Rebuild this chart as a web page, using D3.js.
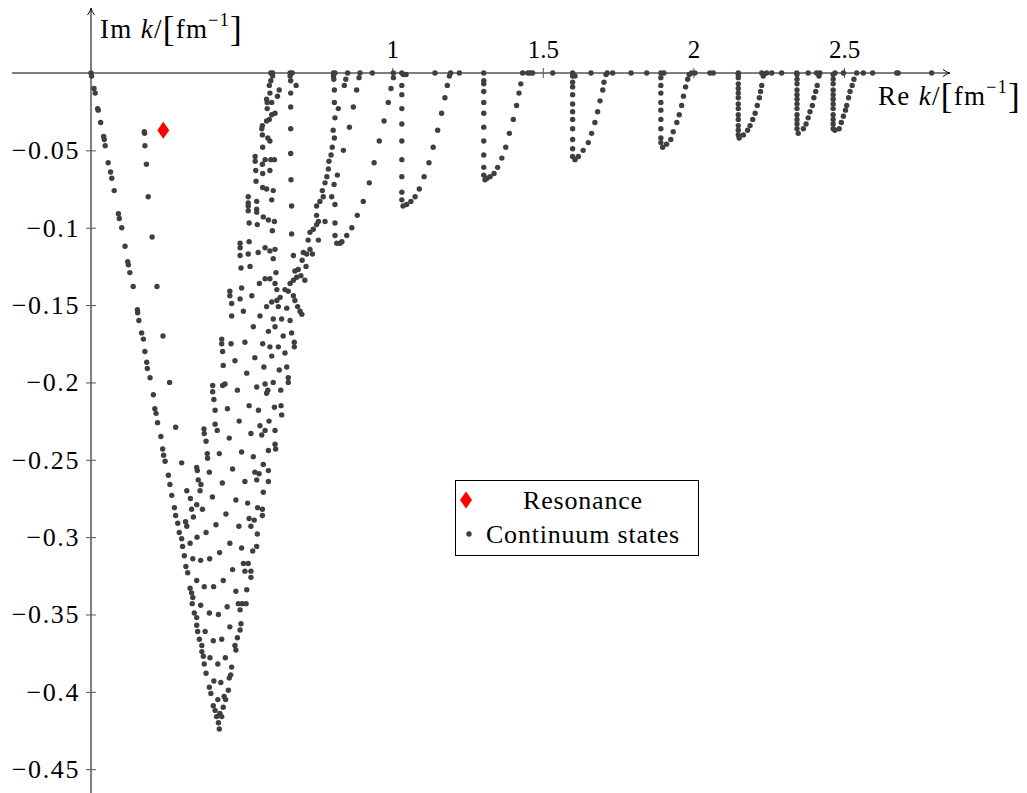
<!DOCTYPE html>
<html>
<head>
<meta charset="utf-8">
<script src="https://cdn.jsdelivr.net/npm/d3@7"></script>
<style>
  body { margin: 0; background: #fff; }
  svg, svg text { font-family: "Liberation Serif", "DejaVu Serif", serif; fill: #000; }
</style>
</head>
<body>
<svg id="chart" width="1027" height="793"></svg>
<script>
// ---- data: complex momenta k = (Re k, Im k) in fm^-1 ----
const resonance = [[0.240, -0.037]];

// steep outer edge of the deep contour family
const outerEdge = [
  [0,0],[0.002,-0.002],[0.010,-0.010],[0.014,-0.013],[0.022,-0.023],[0.024,-0.024],[0.032,-0.032],
  [0.042,-0.041],[0.044,-0.043],[0.047,-0.047],[0.057,-0.058],[0.065,-0.064],[0.069,-0.068],
  [0.077,-0.076],[0.091,-0.091],[0.094,-0.094],[0.102,-0.100],[0.113,-0.112],[0.122,-0.122],
  [0.124,-0.124],[0.129,-0.129],[0.140,-0.138],[0.154,-0.153],[0.155,-0.155],[0.159,-0.160],
  [0.168,-0.168],[0.174,-0.172],[0.179,-0.180],[0.185,-0.187],[0.187,-0.191],[0.196,-0.197],
  [0.207,-0.208],[0.212,-0.217],[0.216,-0.220],[0.221,-0.226],[0.232,-0.235],[0.238,-0.243],
  [0.241,-0.247],[0.246,-0.251],[0.257,-0.260],[0.262,-0.266],[0.268,-0.273],[0.277,-0.281],
  [0.281,-0.286],[0.288,-0.291],[0.293,-0.297],[0.301,-0.301],[0.304,-0.306],[0.310,-0.312],
  [0.315,-0.319],[0.321,-0.323],[0.329,-0.333],[0.334,-0.336],[0.338,-0.339],[0.336,-0.343],
  [0.343,-0.349],[0.351,-0.352],[0.351,-0.357],[0.354,-0.361],[0.360,-0.366],[0.368,-0.370],
  [0.368,-0.374],[0.373,-0.377],[0.376,-0.382],[0.382,-0.388],[0.393,-0.397],[0.398,-0.401],
  [0.406,-0.409],[0.412,-0.412],[0.417,-0.416],[0.423,-0.420],[0.426,-0.424]
];

// second line, just inside the outer edge
const innerEdge = [
  [0.177,-0.038],[0.178,-0.039],[0.179,-0.047],[0.184,-0.059],[0.190,-0.080],[0.203,-0.106],
  [0.219,-0.138],[0.239,-0.170],[0.261,-0.200],[0.281,-0.229],[0.301,-0.252],[0.318,-0.270],
  [0.330,-0.275],[0.334,-0.282],[0.340,-0.287],[0.314,-0.290],[0.318,-0.293],[0.329,-0.304],
  [0.338,-0.314]
];

// upper part of the dense cone (Im k > -0.09)
const coneTop = [
  [0.603,0],[0.597,0],[0.603,-0.002],[0.597,-0.005],[0.592,-0.008],[0.625,-0.011],[0.594,-0.013],
  [0.619,-0.015],[0.583,-0.017],[0.585,-0.019],[0.600,-0.019],[0.585,-0.023],[0.611,-0.026],
  [0.600,-0.027],[0.592,-0.030],[0.583,-0.031],[0.569,-0.034],[0.567,-0.036],[0.569,-0.040],
  [0.587,-0.042],[0.594,-0.044],[0.570,-0.048],[0.545,-0.054],[0.545,-0.057],[0.569,-0.059],
  [0.578,-0.056],[0.597,-0.056],[0.609,-0.056],[0.547,-0.063],[0.570,-0.065],[0.594,-0.063],
  [0.548,-0.070],[0.570,-0.074],[0.583,-0.075],[0.605,-0.076],[0.600,-0.082],[0.522,-0.080],
  [0.522,-0.084],[0.550,-0.083],[0.522,-0.086],[0.550,-0.088],
  [0.661,0],[0.661,-0.002],[0.663,-0.005],[0.681,-0.008],[0.663,-0.013],[0.663,-0.022],
  [0.663,-0.036],[0.663,-0.052],[0.664,-0.069],[0.666,-0.086],
  [0.805,0],[0.805,-0.002],[0.806,-0.004],[0.808,-0.011],[0.808,-0.019],[0.821,-0.023],
  [0.810,-0.029],[0.804,-0.037],[0.808,-0.042],[0.801,-0.048],[0.797,-0.053],[0.790,-0.057],
  [0.788,-0.062],[0.818,-0.066],[0.783,-0.067],[0.777,-0.071],[0.807,-0.072],[0.768,-0.076],
  [0.771,-0.080],[0.799,-0.080],[0.760,-0.083],[0.749,-0.086],[0.810,-0.085],
  [0.890,-0.003],[0.882,-0.011],[0.871,-0.022],[0.858,-0.035],[0.838,-0.050],[0.846,-0.004],
  [0.841,-0.008]
];

// middle band of the cone (-0.17 < Im k < -0.09)
const coneMiddle = [
  [0.522,-0.089],[0.550,-0.090],[0.572,-0.093],[0.589,-0.095],[0.609,-0.096],[0.525,-0.097],
  [0.552,-0.098],[0.602,-0.102],[0.749,-0.092],[0.755,-0.096],[0.749,-0.098],[0.777,-0.096],
  [0.810,-0.097],[0.738,-0.101],[0.727,-0.103],[0.666,-0.104],[0.810,-0.105],[0.816,-0.110],
  [0.495,-0.110],[0.495,-0.113],[0.525,-0.109],[0.495,-0.118],[0.522,-0.117],[0.555,-0.116],
  [0.578,-0.113],[0.594,-0.115],[0.611,-0.114],[0.605,-0.120],[0.672,-0.118],[0.705,-0.116],
  [0.716,-0.117],[0.727,-0.114],[0.735,-0.117],[0.701,-0.121],[0.721,-0.108],[0.755,-0.108],
  [0.498,-0.126],[0.528,-0.125],[0.614,-0.129],[0.677,-0.128],[0.688,-0.127],[0.714,-0.125],
  [0.697,-0.131],[0.683,-0.132],[0.710,-0.134],[0.672,-0.134],[0.661,-0.136],[0.578,-0.133],
  [0.594,-0.133],[0.611,-0.136],[0.617,-0.140],[0.559,-0.136],[0.500,-0.139],[0.461,-0.141],
  [0.461,-0.144],[0.467,-0.149],[0.495,-0.146],[0.534,-0.144],[0.644,-0.140],[0.655,-0.141],
  [0.672,-0.144],[0.677,-0.147],[0.628,-0.145],[0.617,-0.147],[0.600,-0.148],[0.622,-0.151],
  [0.650,-0.152],[0.686,-0.151],[0.694,-0.154],[0.700,-0.156],[0.583,-0.151],[0.506,-0.154],
  [0.467,-0.157],[0.561,-0.157],[0.605,-0.159],[0.633,-0.159],[0.661,-0.160],[0.611,-0.164],
  [0.539,-0.164]
];

// lower band of the cone (-0.33 < Im k < -0.165)
const coneLower = [
  [0.589,-0.167],[0.638,-0.170],[0.666,-0.168],[0.675,-0.174],[0.675,-0.177],[0.434,-0.172],
  [0.434,-0.175],[0.437,-0.180],[0.465,-0.175],[0.511,-0.174],[0.478,-0.186],[0.439,-0.189],
  [0.544,-0.184],[0.570,-0.175],[0.594,-0.177],[0.622,-0.177],[0.600,-0.183],[0.644,-0.181],
  [0.574,-0.190],[0.625,-0.192],[0.650,-0.190],[0.655,-0.197],[0.655,-0.200],[0.605,-0.200],
  [0.517,-0.194],[0.404,-0.202],[0.404,-0.206],[0.437,-0.202],[0.445,-0.201],[0.486,-0.205],
  [0.550,-0.203],[0.578,-0.201],[0.587,-0.205],[0.583,-0.207],[0.630,-0.205],
  [0.408,-0.211],[0.412,-0.218],[0.453,-0.217],[0.525,-0.215],[0.556,-0.218],[0.609,-0.216],
  [0.631,-0.215],[0.633,-0.221],[0.375,-0.230],[0.376,-0.233],[0.412,-0.227],[0.419,-0.231],
  [0.492,-0.225],[0.531,-0.233],[0.561,-0.228],[0.567,-0.234],[0.578,-0.231],[0.591,-0.225],
  [0.611,-0.231],[0.382,-0.238],[0.459,-0.236],[0.386,-0.246],[0.387,-0.249],[0.426,-0.246],
  [0.500,-0.245],[0.539,-0.248],[0.589,-0.244],[0.611,-0.240],[0.613,-0.243],[0.351,-0.255],
  [0.353,-0.257],[0.393,-0.258],[0.470,-0.256],[0.572,-0.253],[0.589,-0.257],[0.544,-0.258],
  [0.558,-0.259],[0.550,-0.263],[0.356,-0.263],[0.365,-0.266],[0.362,-0.270],[0.436,-0.265],
  [0.511,-0.264],[0.589,-0.264],[0.351,-0.279],[0.370,-0.282],[0.403,-0.274],[0.481,-0.276],
  [0.520,-0.278],[0.572,-0.271],[0.415,-0.292],[0.448,-0.285],[0.491,-0.293],[0.525,-0.288],
  [0.542,-0.289],[0.531,-0.293],[0.553,-0.281],[0.569,-0.282],[0.569,-0.286],[0.352,-0.300],
  [0.382,-0.297],[0.461,-0.304],[0.500,-0.307],[0.537,-0.309],[0.550,-0.306],[0.552,-0.298],
  [0.364,-0.315],[0.394,-0.314],[0.427,-0.310],[0.470,-0.321],[0.506,-0.317],[0.522,-0.317],
  [0.511,-0.322],[0.531,-0.322],[0.531,-0.326],[0.351,-0.328],[0.439,-0.328]
];

// tip of the cone (Im k < -0.33)
const coneTip = [
  [0.376,-0.332],[0.407,-0.332],[0.481,-0.335],[0.517,-0.334],[0.364,-0.344],[0.393,-0.349],
  [0.423,-0.350],[0.452,-0.345],[0.489,-0.343],[0.502,-0.343],[0.515,-0.343],[0.495,-0.347],
  [0.498,-0.356],[0.379,-0.361],[0.406,-0.367],[0.434,-0.366],[0.461,-0.358],[0.495,-0.360],
  [0.486,-0.365],[0.478,-0.370],[0.481,-0.373],[0.395,-0.378],[0.421,-0.382],[0.446,-0.378],
  [0.467,-0.384],[0.464,-0.389],[0.459,-0.391],[0.408,-0.393],[0.431,-0.394],[0.421,-0.405],
  [0.442,-0.403],[0.456,-0.399],[0.447,-0.405],[0.439,-0.410],[0.428,-0.414],[0.434,-0.416]
];

// shallower contours to the right
const contour082 = [
  [0.827,-0.110],[0.833,-0.109],[0.849,-0.105],[0.866,-0.100],[0.884,-0.092],[0.904,-0.083],
  [0.924,-0.071],[0.940,-0.058],[0.957,-0.044],[0.973,-0.031],[0.987,-0.019],[0.996,-0.010],
  [1.004,-0.003]
];
const contour103 = [
  [1.032,-0.008],[1.032,-0.014],[1.032,-0.023],[1.032,-0.033],[1.032,-0.044],[1.032,-0.056],
  [1.032,-0.067],[1.032,-0.077],[1.032,-0.082],[1.036,-0.086],[1.048,-0.085],[1.062,-0.083],
  [1.076,-0.080],[1.090,-0.075],[1.106,-0.067],[1.122,-0.058],[1.136,-0.048],[1.151,-0.037],
  [1.164,-0.026],[1.175,-0.016],[1.183,-0.008],[1.190,-0.002]
];
const contour130 = [
  [1.304,-0.005],[1.304,-0.007],[1.304,-0.012],[1.304,-0.019],[1.304,-0.026],[1.304,-0.035],
  [1.304,-0.044],[1.304,-0.053],[1.304,-0.061],[1.304,-0.066],[1.308,-0.069],[1.315,-0.068],
  [1.325,-0.067],[1.338,-0.065],[1.350,-0.061],[1.364,-0.055],[1.377,-0.048],[1.389,-0.039],
  [1.402,-0.030],[1.413,-0.021],[1.421,-0.013],[1.427,-0.007]
];
const contour160 = [
  [1.599,-0.002],[1.607,-0.002],[1.599,-0.006],[1.599,-0.009],[1.599,-0.014],[1.599,-0.020],
  [1.599,-0.025],[1.599,-0.030],[1.599,-0.036],[1.599,-0.043],[1.599,-0.049],[1.599,-0.054],
  [1.607,-0.056],[1.618,-0.054],[1.634,-0.050],[1.651,-0.045],[1.662,-0.039],[1.673,-0.032],
  [1.682,-0.025],[1.690,-0.018],[1.699,-0.011],[1.703,-0.006],[1.710,-0.001]
];
const contour189 = [
  [1.892,-0.003],[1.892,-0.008],[1.892,-0.013],[1.892,-0.019],[1.892,-0.024],[1.892,-0.030],
  [1.892,-0.036],[1.892,-0.042],[1.892,-0.045],[1.898,-0.048],[1.911,-0.046],[1.925,-0.043],
  [1.933,-0.038],[1.945,-0.032],[1.953,-0.027],[1.961,-0.021],[1.967,-0.015],[1.974,-0.009],
  [1.981,-0.004],[1.986,-0.001]
];
const contour215 = [
  [2.149,-0.001],[2.149,-0.003],[2.149,-0.007],[2.149,-0.010],[2.149,-0.013],[2.149,-0.016],
  [2.149,-0.020],[2.149,-0.023],[2.149,-0.027],[2.149,-0.030],[2.149,-0.034],[2.149,-0.037],
  [2.149,-0.040],[2.152,-0.042],[2.166,-0.040],[2.180,-0.037],[2.188,-0.034],[2.197,-0.030],
  [2.205,-0.026],[2.212,-0.021],[2.219,-0.016],[2.223,-0.012],[2.227,-0.008],[2.232,-0.002]
];
const contour234 = [
  [2.344,-0.001],[2.344,-0.004],[2.344,-0.007],[2.344,-0.011],[2.344,-0.014],[2.344,-0.017],
  [2.344,-0.020],[2.344,-0.023],[2.344,-0.027],[2.344,-0.030],[2.344,-0.033],[2.344,-0.036],
  [2.348,-0.039],[2.365,-0.036],[2.374,-0.033],[2.381,-0.029],[2.387,-0.025],[2.395,-0.021],
  [2.400,-0.016],[2.406,-0.012],[2.411,-0.008],[2.417,-0.002]
];
const contour246 = [
  [2.464,-0.001],[2.464,-0.004],[2.464,-0.007],[2.464,-0.011],[2.464,-0.014],[2.464,-0.017],
  [2.464,-0.020],[2.464,-0.023],[2.464,-0.027],[2.464,-0.030],[2.464,-0.033],[2.464,-0.036],
  [2.470,-0.037],[2.484,-0.036],[2.491,-0.032],[2.498,-0.028],[2.505,-0.024],[2.509,-0.021],
  [2.515,-0.016],[2.520,-0.012],[2.527,-0.008],[2.533,-0.004]
];

// states lying on the real axis
const realAxis = [
  [0.668,0],[0.810,0],[0.852,0],[0.893,0],[0.934,0],[1.004,0],[1.032,0],[1.037,-0.001],[1.046,-0.001],
  [1.142,0],[1.194,0],[1.223,0],[1.304,0],[1.433,0],[1.450,0],[1.458,0],[1.466,0],[1.533,0],
  [1.599,0],[1.660,0],[1.714,0],[1.732,0],[1.793,0],[1.845,0],[1.892,0],[1.902,0],[1.994,0],
  [2.005,0],[2.055,0],[2.066,0],[2.149,0],[2.227,0],[2.243,0],[2.260,0],[2.293,0],[2.343,0],
  [2.381,0],[2.409,0],[2.420,0],[2.470,0],[2.498,0],[2.542,0],[2.564,0],[2.595,0],[2.675,0],
  [2.680,0],[2.791,0]
];

const xTicks = [1, 1.5, 2, 2.5];
const xTickLabels = ["1", "1.5", "2", "2.5"];
const yTicks = [-0.05, -0.1, -0.15, -0.2, -0.25, -0.3, -0.35, -0.4, -0.45];
const yTickLabels = ["\u22120.05", "\u22120.1", "\u22120.15", "\u22120.2", "\u22120.25",
                     "\u22120.3", "\u22120.35", "\u22120.4", "\u22120.45"];
const legendLabels = ["Resonance", "Continuum states"];

const continuum = [].concat(outerEdge, innerEdge, coneTop, coneMiddle, coneLower, coneTip,
  contour082, contour103, contour130, contour160, contour189, contour215, contour234,
  contour246, realAxis);

// ---- scales ----
const serif = "'Liberation Serif', 'DejaVu Serif', serif";
const svg = d3.select("#chart");
const x = d3.scaleLinear().domain([0, 2.5]).range([91, 844]);
const y = d3.scaleLinear().domain([0, -0.45]).range([73, 769.2]);

const dotColor = "#3f3f3f";
const red = "#ff0000";

svg.append("rect").attr("width", 1027).attr("height", 793).attr("fill", "#fff");

// ---- axis lines (centered, with arrow heads) ----
const axes = svg.append("g");
const xStart = x(-0.262), xEnd = x(2.852);
const yBottom = y(-0.47), yTop = y(0.042);
axes.append("line").attr("x1", xStart).attr("x2", xEnd - 1).attr("y1", y(0)).attr("y2", y(0))
  .attr("stroke", "#000").attr("stroke-width", 1);
axes.append("line").attr("x1", x(0)).attr("x2", x(0)).attr("y1", yBottom).attr("y2", yTop + 1)
  .attr("stroke", "#000").attr("stroke-width", 1);
// arrow heads
axes.append("path")
  .attr("d", `M${xEnd - 7},${y(0) - 3.5} Q${xEnd - 3},${y(0) - 0.5} ${xEnd},${y(0)} Q${xEnd - 3},${y(0) + 0.5} ${xEnd - 7},${y(0) + 3.5}`)
  .attr("fill", "none").attr("stroke", "#000").attr("stroke-width", 1);
axes.append("path")
  .attr("d", `M${x(0) - 3.5},${yTop + 7} Q${x(0) - 0.5},${yTop + 3} ${x(0)},${yTop} Q${x(0) + 0.5},${yTop + 3} ${x(0) + 3.5},${yTop + 7}`)
  .attr("fill", "none").attr("stroke", "#000").attr("stroke-width", 1);

// ---- ticks ----
const xAxis = d3.axisTop(x).tickValues(xTicks).tickSize(5).tickPadding(10)
  .tickFormat((d, i) => xTickLabels[i]);
const gx = svg.append("g").attr("transform", `translate(0,${y(0)})`).call(xAxis);
gx.attr("font-family", null).attr("font-size", null);
gx.select(".domain").remove();
gx.selectAll(".tick line").attr("y1", 5).attr("y2", -5).attr("stroke", "#555");
gx.selectAll(".tick text").style("font-family", serif).style("font-size", "25px")
  .attr("fill", "#000");

const yAxis = d3.axisLeft(y).tickValues(yTicks).tickSize(5).tickPadding(6)
  .tickFormat((d, i) => yTickLabels[i]);
const gy = svg.append("g").attr("transform", `translate(${x(0)},0)`).call(yAxis);
gy.attr("font-family", null).attr("font-size", null);
gy.select(".domain").remove();
gy.selectAll(".tick line").attr("x1", 5).attr("x2", -5).attr("stroke", "#555");
gy.selectAll(".tick text").style("font-family", serif).style("font-size", "26px")
  .style("letter-spacing", "1.6px").attr("fill", "#000");

// ---- axis labels ----
function kLabel(prefix, px, py) {
  const t = svg.append("text").attr("x", px).attr("y", py)
    .style("font-family", serif).style("font-size", "27px").style("letter-spacing", "1.3px");
  t.append("tspan").text(prefix + "\u00a0");
  t.append("tspan").style("font-style", "italic").text("k");
  t.append("tspan").text("/");
  t.append("tspan").style("font-size", "35px").attr("dy", 3).text("[");
  t.append("tspan").attr("dy", -3).text("fm");
  t.append("tspan").style("font-size", "18px").attr("dy", -12).text("\u22121");
  t.append("tspan").style("font-size", "35px").attr("dy", 15).text("]");
}
kLabel("Im", 100, 38);
kLabel("Re", 878, 105);

// ---- continuum states ----
svg.append("g").selectAll("circle").data(continuum).join("circle")
  .attr("cx", d => x(d[0])).attr("cy", d => y(d[1])).attr("r", 2.7)
  .attr("fill", dotColor);

// ---- resonance ----
const diamond = "M0,-8.5 L6,0 L0,8.5 L-6,0 Z";
svg.append("g").selectAll("path").data(resonance).join("path")
  .attr("d", diamond)
  .attr("transform", d => `translate(${x(d[0])},${y(d[1])})`)
  .attr("fill", red);

// ---- legend ----
const lg = svg.append("g");
lg.append("rect").attr("x", 455.5).attr("y", 480.5).attr("width", 243).attr("height", 75)
  .attr("fill", "#fff").attr("stroke", "#000").attr("stroke-width", 1);
lg.append("path").attr("d", diamond).attr("transform", "translate(466,500)").attr("fill", red);
lg.append("circle").attr("cx", 469).attr("cy", 534).attr("r", 2.7).attr("fill", dotColor);
lg.append("text").attr("x", 583).attr("y", 509).attr("text-anchor", "middle")
  .style("font-family", serif).style("font-size", "26px").style("letter-spacing", "0.8px")
  .text(legendLabels[0]);
lg.append("text").attr("x", 583).attr("y", 543).attr("text-anchor", "middle")
  .style("font-family", serif).style("font-size", "26px").style("letter-spacing", "0.8px")
  .text(legendLabels[1]);
</script>
</body>
</html>
